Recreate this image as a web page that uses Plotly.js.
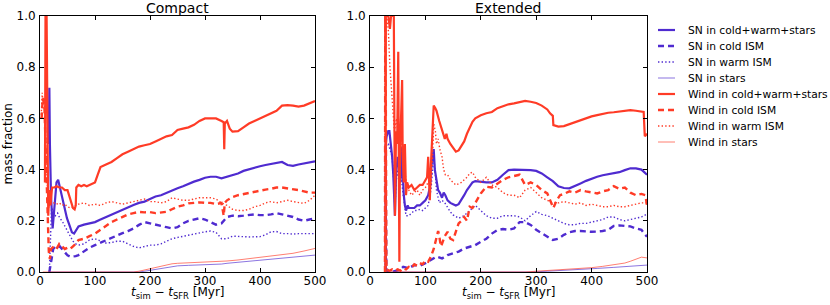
<!DOCTYPE html>
<html>
<head>
<meta charset="utf-8">
<script src="https://cdn.plot.ly/plotly-3.0.1.min.js"></script>
<style>html,body{margin:0;padding:0;background:#fff;}#chart{width:830px;height:305px;}</style>
</head>
<body>
<div id="chart"></div>
<script>
// ---------------- DATA ----------------
const panelTitles = ["Compact", "Extended"];
const seriesNames = ["SN in cold+warm+stars", "SN in cold ISM", "SN in warm ISM", "SN in stars",
                     "Wind in cold+warm+stars", "Wind in cold ISM", "Wind in warm ISM", "Wind in stars"];
const xTicks = [0, 100, 200, 300, 400, 500];
const yTicks = [0.0, 0.2, 0.4, 0.6, 0.8, 1.0];

// Compact
const cSnTotT = [16,17,18,20,23,26,30,33,36,40, 44,49,54,58,62,65,70,80,90,100, 110,120,130,140,150,160,170,180,190,200, 210,220,230,240,250,260,270,280,290,300, 310,320,330,340,350,360,370,380,390,400, 410,420,430,440,450,460,470,480,490,500];
const cSnTot = [0.5,0.72,0.5,0.3,0.17,0.25,0.35,0.36,0.33,0.29, 0.25,0.21,0.18,0.155,0.15,0.16,0.178,0.185,0.19,0.195, 0.205,0.215,0.222,0.235,0.245,0.255,0.262,0.27,0.275,0.285, 0.295,0.30,0.31,0.318,0.327,0.335,0.345,0.353,0.36,0.368, 0.372,0.372,0.366,0.372,0.38,0.385,0.395,0.402,0.407,0.413, 0.418,0.423,0.428,0.43,0.418,0.415,0.42,0.425,0.428,0.432];
const cSnT = [17,19,21,24,28,32,36,40,45,50, 55,60,65,70,80,90,100,110,120,130, 140,150,160,170,180,190,200,210,220,230, 240,250,260,270,280,290,300,310,320,330, 340,350,360,370,380,390,400,410,420,430, 440,450,460,470,480,490,500];
const cSnCold = [0.0,0.02,0.05,0.09,0.1,0.095,0.1,0.09,0.075,0.065, 0.06,0.06,0.062,0.066,0.08,0.095,0.105,0.115,0.125,0.135, 0.145,0.152,0.16,0.17,0.184,0.195,0.19,0.184,0.18,0.175, 0.17,0.175,0.19,0.2,0.205,0.21,0.205,0.195,0.185,0.19, 0.215,0.22,0.218,0.22,0.222,0.225,0.222,0.222,0.225,0.23, 0.225,0.22,0.215,0.205,0.2,0.205,0.21];
const cSnWarm = [0.0,0.15,0.25,0.24,0.22,0.23,0.21,0.2,0.18,0.16, 0.14,0.12,0.11,0.105,0.11,0.125,0.13,0.12,0.113,0.115, 0.12,0.12,0.11,0.1,0.094,0.1,0.105,0.105,0.11,0.12, 0.13,0.135,0.14,0.145,0.15,0.155,0.157,0.16,0.155,0.13, 0.13,0.14,0.14,0.138,0.137,0.137,0.138,0.145,0.157,0.158, 0.15,0.15,0.148,0.15,0.15,0.15,0.15];
const cSnStarsT = [17,180,190,200,210,220,230,240,250,270, 300,330,340,360,380,400,420,440,460,480, 500];
const cSnStars = [0,0,0.003,0.007,0.01,0.014,0.018,0.022,0.024,0.026, 0.028,0.031,0.034,0.038,0.042,0.045,0.049,0.053,0.057,0.061, 0.066];
const cWiTotT = [9,10,12,13,14,15,17,19,22,26, 30,35,40,45,50,55,60,63,65,66, 68,70,75,80,85,90,95,100,105,110, 120,130,140,150,160,170,180,190,200,210, 220,230,240,250,260,270,280,290,300,310, 320,330,334,335,336,340,345,350,360,370, 380,390,400,410,420,430,440,450,460,470, 480,490,500];
const cWiTot = [0.35,1.0,1.0,0.6,0.3,0.22,0.32,0.26,0.33,0.33, 0.335,0.33,0.33,0.32,0.32,0.28,0.25,0.245,0.26,0.33, 0.335,0.34,0.335,0.34,0.335,0.34,0.345,0.35,0.38,0.41, 0.42,0.43,0.445,0.46,0.47,0.48,0.49,0.495,0.5,0.51, 0.52,0.53,0.535,0.555,0.56,0.565,0.575,0.59,0.6,0.6, 0.6,0.59,0.585,0.48,0.58,0.59,0.56,0.548,0.55,0.565, 0.58,0.59,0.60,0.61,0.617,0.63,0.65,0.652,0.65,0.646, 0.65,0.66,0.668];
const cWiColdT = [3,5,8,10,12,14,16,18,20,25, 30,35,40,45,50,55,60,65,70,80, 90,100,110,120,130,140,150,160,170,180, 190,200,210,220,230,240,250,260,270,280, 290,300,310,320,330,334,336,340,350,360, 370,380,390,400,410,420,430,440,450,460, 470,480,490,500];
const cWiCold = [0.6,0.68,0.65,0.5,0.3,0.2,0.08,0.05,0.09,0.1, 0.09,0.11,0.1,0.09,0.095,0.09,0.1,0.11,0.125,0.13, 0.14,0.15,0.165,0.18,0.195,0.205,0.215,0.225,0.23,0.235, 0.233,0.234,0.23,0.232,0.235,0.245,0.255,0.26,0.268,0.27, 0.272,0.27,0.27,0.265,0.27,0.22,0.27,0.28,0.293,0.3, 0.305,0.31,0.315,0.32,0.322,0.325,0.33,0.33,0.327,0.325, 0.32,0.315,0.31,0.31];
const cWiWarmT = [2,4,6,8,10,12,14,16,18,20, 25,30,35,40,45,50,55,60,65,70, 80,90,100,110,120,130,140,150,160,170, 180,190,200,210,220,230,240,250,260,270, 280,290,300,310,320,330,340,350,360,370, 380,390,400,410,420,430,440,450,460,470, 480,490,500];
const cWiWarm = [0.6,0.7,0.65,0.68,0.55,0.4,0.3,0.25,0.28,0.27, 0.27,0.265,0.27,0.26,0.265,0.255,0.25,0.255,0.26,0.265, 0.27,0.26,0.265,0.26,0.27,0.275,0.27,0.265,0.27,0.275, 0.28,0.285,0.275,0.275,0.27,0.275,0.29,0.285,0.28,0.28, 0.285,0.29,0.29,0.29,0.285,0.27,0.26,0.245,0.24,0.24, 0.245,0.255,0.26,0.27,0.275,0.27,0.275,0.28,0.275,0.27, 0.268,0.28,0.3];
const cWiStarsT = [5,170,180,190,200,210,220,230,240,250, 270,300,330,340,360,380,400,420,440,460, 480,500];
const cWiStars = [0,0,0.003,0.008,0.013,0.018,0.022,0.027,0.032,0.034, 0.036,0.038,0.04,0.043,0.047,0.052,0.057,0.063,0.068,0.073, 0.082,0.092];

// Extended
const eSnTotT = [28,28.5,30,33,35,38,40,42,44,45, 47,50,53,55,57,59,61,63,65,68, 70,75,80,85,90,95,100,105,108,110, 113,115,117,120,123,126,130,133,136,140, 145,150,155,160,165,170,175,180,185,190, 200,210,220,230,240,250,260,270,280,290, 300,310,320,330,340,350,360,370,380,390, 400,410,420,430,440,450,460,470,480,490, 495,500];
const eSnTot = [0.0,0.5,0.53,0.55,0.55,0.5,0.45,0.38,0.3,0.22, 0.38,0.45,0.4,0.35,0.49,0.38,0.3,0.26,0.24,0.26, 0.25,0.25,0.25,0.26,0.26,0.27,0.28,0.3,0.33,0.4, 0.45,0.48,0.4,0.35,0.32,0.31,0.29,0.31,0.3,0.28, 0.27,0.265,0.26,0.265,0.28,0.3,0.32,0.335,0.35,0.355, 0.352,0.35,0.35,0.36,0.38,0.398,0.4,0.4,0.4,0.398, 0.395,0.385,0.37,0.355,0.335,0.328,0.327,0.335,0.346,0.356, 0.365,0.372,0.378,0.382,0.385,0.39,0.398,0.405,0.405,0.4, 0.39,0.38];
const eSnColdT = [28,28.5,29.5,30,40,50,55,60,70,80, 90,100,110,120,130,140,150,160,170,180, 190,200,210,220,230,240,250,260,270,280, 290,300,310,320,330,340,350,360,370,380, 390,400,410,420,430,440,450,460,470,480, 490,495,500];
const eSnCold = [0.0,0.3,0.02,0.0,0.0,0.005,0.01,0.02,0.015,0.027, 0.025,0.034,0.047,0.06,0.053,0.066,0.073,0.08,0.092,0.1, 0.105,0.118,0.13,0.15,0.164,0.168,0.165,0.17,0.195,0.195, 0.184,0.165,0.152,0.14,0.125,0.13,0.145,0.155,0.16,0.16, 0.158,0.157,0.158,0.16,0.165,0.18,0.182,0.18,0.178,0.17, 0.165,0.15,0.138];
const eSnWarmT = [28,28.5,30,33,36,40,43,45,47,50, 53,56,60,63,65,70,75,80,85,90, 95,100,105,110,113,115,118,120,125,130, 135,140,145,150,155,160,165,170,175,180, 185,190,195,200,210,220,230,240,250,260, 270,280,290,300,310,320,330,340,350,360, 370,380,390,400,410,420,430,440,450,460, 470,480,490,500];
const eSnWarm = [0.0,0.45,0.5,0.5,0.48,0.45,0.35,0.25,0.35,0.4, 0.35,0.38,0.3,0.25,0.22,0.22,0.23,0.24,0.24,0.245, 0.24,0.25,0.26,0.32,0.4,0.45,0.38,0.32,0.27,0.28, 0.27,0.25,0.235,0.223,0.215,0.21,0.215,0.22,0.23,0.24, 0.25,0.26,0.25,0.24,0.22,0.21,0.21,0.22,0.22,0.22, 0.215,0.2,0.22,0.236,0.225,0.22,0.21,0.2,0.19,0.184, 0.185,0.19,0.19,0.195,0.2,0.205,0.215,0.215,0.205,0.2, 0.205,0.21,0.215,0.226];
const eSnStarsT = [28,290,320,350,380,410,440,470,500];
const eSnStars = [0,0,0.003,0.006,0.01,0.014,0.018,0.023,0.027];
const eWiTotT = [28,28.5,30,33,36,38,40,43,44,45, 47,49,51,52,53,54,56,58,59,61, 63,65,67,70,75,80,85,90,95,100, 103,105,107,108,110,112,115,118,120,125, 130,133,135,138,140,145,150,155,160,165, 170,175,180,185,190,195,200,210,220,230, 240,250,260,270,280,290,300,310,320,325, 330,331,340,350,360,370,380,390,400,410, 420,430,440,450,460,470,480,490,494,496, 500];
const eWiTot = [0.0,1.0,1.0,1.0,0.95,1.0,1.0,1.0,0.6,0.22, 0.55,0.5,0.86,0.4,0.04,0.45,0.6,0.75,0.45,0.35, 0.5,0.3,0.35,0.33,0.34,0.32,0.33,0.34,0.34,0.36, 0.37,0.45,0.35,0.28,0.42,0.52,0.65,0.64,0.63,0.59, 0.55,0.53,0.52,0.54,0.52,0.5,0.485,0.47,0.475,0.49, 0.51,0.54,0.565,0.587,0.6,0.607,0.612,0.62,0.625,0.64, 0.648,0.655,0.659,0.665,0.668,0.665,0.66,0.65,0.635,0.62, 0.61,0.574,0.568,0.57,0.578,0.586,0.594,0.602,0.608,0.613, 0.618,0.622,0.624,0.626,0.63,0.632,0.63,0.628,0.625,0.53, 0.54];
const eWiColdT = [27,27.5,28.5,29.5,30,35,40,45,50,55, 60,65,70,75,80,85,90,95,100,105, 110,115,118,120,123,125,128,130,135,140, 145,150,155,160,165,170,175,180,185,190, 195,200,205,210,220,230,240,250,260,270, 280,290,300,310,320,325,331,337,343,350, 360,370,380,390,400,410,420,430,440,450, 460,470,480,490,497,500];
const eWiCold = [0.0,1.0,0.7,0.05,0.01,0.005,0.01,0.005,0.01,0.005, 0.015,0.01,0.02,0.015,0.03,0.025,0.035,0.03,0.045,0.04, 0.06,0.09,0.12,0.13,0.16,0.14,0.1,0.11,0.14,0.157, 0.13,0.125,0.16,0.19,0.2,0.215,0.2,0.255,0.25,0.27, 0.29,0.307,0.32,0.333,0.33,0.346,0.36,0.37,0.375,0.38, 0.34,0.35,0.34,0.32,0.307,0.28,0.25,0.28,0.3,0.305, 0.315,0.31,0.32,0.315,0.31,0.307,0.315,0.32,0.335,0.325, 0.33,0.31,0.3,0.305,0.3,0.26];
const eWiWarmT = [27,27.5,30,33,36,40,44,48,52,56, 60,65,70,75,80,85,90,95,100,105, 110,113,115,118,120,123,126,130,133,136, 140,145,150,155,160,165,170,175,180,185, 190,195,200,210,220,230,240,250,260,270, 280,290,300,310,320,330,340,350,360,370, 380,390,400,410,420,430,440,450,460,470, 480,490,500];
const eWiWarm = [0.0,0.9,1.0,0.95,0.8,0.65,0.55,0.6,0.5,0.55, 0.42,0.36,0.32,0.3,0.31,0.32,0.3,0.32,0.33,0.35, 0.34,0.45,0.58,0.55,0.5,0.52,0.48,0.45,0.4,0.38, 0.38,0.36,0.35,0.34,0.345,0.35,0.36,0.37,0.385,0.39, 0.37,0.36,0.35,0.37,0.34,0.33,0.31,0.3,0.3,0.29, 0.32,0.33,0.31,0.29,0.28,0.27,0.27,0.275,0.27,0.265, 0.27,0.26,0.265,0.26,0.255,0.255,0.26,0.255,0.255,0.26, 0.265,0.27,0.27];
const eWiStarsT = [28,280,300,320,340,360,380,400,420,440, 460,470,480,490,500];
const eWiStars = [0,0,0.003,0.006,0.008,0.01,0.013,0.017,0.022,0.028, 0.035,0.042,0.05,0.058,0.055];

// ---------------- STYLES ----------------
const BLUE = '#4f2bd0', RED = '#ff3b26';
const styles = [
  {color: BLUE, width: 2.2, dash: 'solid', opacity: 1},
  {color: BLUE, width: 2.4, dash: '6px,4px', opacity: 1},
  {color: BLUE, width: 1.4, dash: '1.4px,2.2px', opacity: 1},
  {color: BLUE, width: 1.0, dash: 'solid', opacity: 0.65},
  {color: RED, width: 2.2, dash: 'solid', opacity: 1},
  {color: RED, width: 2.4, dash: '6px,4px', opacity: 1},
  {color: RED, width: 1.4, dash: '1.4px,2.2px', opacity: 1},
  {color: RED, width: 1.0, dash: 'solid', opacity: 0.65}
];
const panels = [
  {xa: 'x', ya: 'y', sets: [[cSnTotT,cSnTot],[cSnT,cSnCold],[cSnT,cSnWarm],[cSnStarsT,cSnStars],
                            [cWiTotT,cWiTot],[cWiColdT,cWiCold],[cWiWarmT,cWiWarm],[cWiStarsT,cWiStars]]},
  {xa: 'x2', ya: 'y2', sets: [[eSnTotT,eSnTot],[eSnColdT,eSnCold],[eSnWarmT,eSnWarm],[eSnStarsT,eSnStars],
                              [eWiTotT,eWiTot],[eWiColdT,eWiCold],[eWiWarmT,eWiWarm],[eWiStarsT,eWiStars]]}
];

const traces = [];
panels.forEach((p, pi) => {
  p.sets.forEach((s, si) => {
    if (s[0].length !== s[1].length) throw new Error('length mismatch panel ' + pi + ' series ' + si + ': ' + s[0].length + ' vs ' + s[1].length);
    const st = styles[si];
    traces.push({
      type: 'scatter', mode: 'lines', x: s[0], y: s[1], xaxis: p.xa, yaxis: p.ya,
      name: seriesNames[si], showlegend: false, opacity: st.opacity,
      line: {color: st.color, width: st.width, dash: st.dash},
      hoverinfo: 'skip'
    });
  });
});

const W = 830, H = 305, T = 16, B = 33;
const PH = H - T - B;
const pyFrac = py => (H - B - py) / PH;

function axisX(d0, d1) {
  return {domain: [d0 / W, d1 / W], range: [0, 500], tickvals: xTicks, ticktext: xTicks.map(String),
    ticks: 'inside', ticklen: 4, tickwidth: 1, tickcolor: '#000', mirror: 'ticks', showline: true,
    linecolor: '#000', linewidth: 1, showgrid: false, zeroline: false, automargin: false,
    tickfont: {family: 'DejaVu Sans', size: 12, color: '#000'}, ticklabelstandoff: -2, fixedrange: true};
}
function axisY(anchor) {
  return {domain: [0, 1], range: [0, 1], tickvals: yTicks, ticktext: yTicks.map(v => v.toFixed(1)),
    ticks: 'inside', ticklen: 4, tickwidth: 1, tickcolor: '#000', mirror: 'ticks', showline: true,
    linecolor: '#000', linewidth: 1, showgrid: false, zeroline: false, automargin: false, anchor: anchor,
    tickfont: {family: 'DejaVu Sans', size: 12, color: '#000'}, ticklabelstandoff: 1, fixedrange: true};
}
const xTitle = '<i>t</i><sub>sim</sub> − <i>t</i><sub>SFR</sub> [Myr]';

// Legend drawn as line samples + labels (matplotlib-like compact spacing)
const legendShapes = [], legendNotes = [];
seriesNames.forEach((nm, i) => {
  const rowY = 30 + 16 * i, st = styles[i];
  legendShapes.push({type: 'line', xref: 'paper', yref: 'paper', x0: 658 / W, x1: 675 / W,
    y0: pyFrac(rowY), y1: pyFrac(rowY), opacity: st.opacity,
    line: {color: st.color, width: st.width, dash: st.dash}});
  legendNotes.push({text: nm, xref: 'paper', yref: 'paper', x: 686 / W, y: pyFrac(rowY),
    xanchor: 'left', yanchor: 'middle', showarrow: false, font: {size: 10.7}});
});

const layout = {
  width: W, height: H, margin: {l: 0, r: 0, t: T, b: B, pad: 0},
  paper_bgcolor: '#fff', plot_bgcolor: '#fff',
  font: {family: 'DejaVu Sans', size: 11, color: '#000'},
  xaxis: axisX(40, 315), yaxis: axisY('x'),
  xaxis2: axisX(370, 647), yaxis2: axisY('x2'),
  showlegend: false,
  shapes: legendShapes,
  annotations: [
    {text: panelTitles[0], xref: 'paper', yref: 'paper', x: 177.5 / W, y: pyFrac(8), xanchor: 'center', yanchor: 'middle', showarrow: false, font: {size: 14}},
    {text: panelTitles[1], xref: 'paper', yref: 'paper', x: 508.5 / W, y: pyFrac(8), xanchor: 'center', yanchor: 'middle', showarrow: false, font: {size: 14}},
    {text: xTitle, xref: 'paper', yref: 'paper', x: 177.5 / W, y: pyFrac(293), xanchor: 'center', yanchor: 'middle', showarrow: false, font: {size: 12}},
    {text: xTitle, xref: 'paper', yref: 'paper', x: 508.5 / W, y: pyFrac(293), xanchor: 'center', yanchor: 'middle', showarrow: false, font: {size: 12}},
    {text: 'mass fraction', xref: 'paper', yref: 'paper', x: 7.5 / W, y: pyFrac(144), xanchor: 'center', yanchor: 'middle', textangle: -90, showarrow: false, font: {size: 12}}
  ].concat(legendNotes)
};
Plotly.newPlot('chart', traces, layout, {displayModeBar: false, staticPlot: true});
</script>
</body>
</html>
